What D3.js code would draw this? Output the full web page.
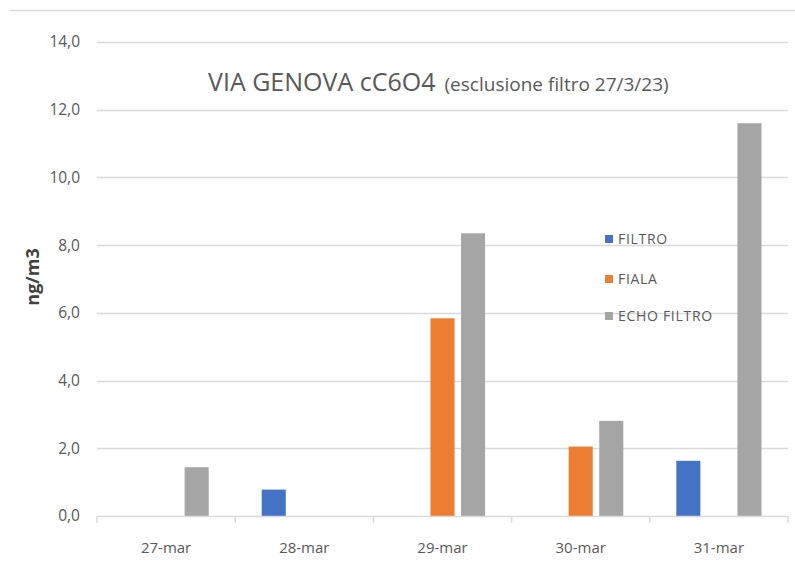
<!DOCTYPE html>
<html>
<head>
<meta charset="utf-8">
<script src="https://cdn.jsdelivr.net/npm/d3@7"></script>
<style>
  html, body { margin: 0; padding: 0; background: #fff; }
  svg text { font-family: "Open Sans", "Liberation Sans", sans-serif; }
</style>
</head>
<body>
<script>
const categories = ["27-mar", "28-mar", "29-mar", "30-mar", "31-mar"];
const seriesNames = ["FILTRO", "FIALA", "ECHO FILTRO"];
const filtro = [null, 0.78, null, null, 1.63];
const fiala = [null, null, 5.84, 2.05, null];
const echoFiltro = [1.44, null, 8.35, 2.81, 11.6];
const seriesColors = ["#4472C4", "#ED7D31", "#A5A5A5"];
const yTicks = [0, 2, 4, 6, 8, 10, 12, 14];

const W = 795, H = 568;
const margin = { left: 97, right: 7, top: 42, bottom: 52 };
const svg = d3.select("body").append("svg").attr("width", W).attr("height", H);

const plotW = W - margin.left - margin.right;
const plotH = H - margin.top - margin.bottom;
const g = svg.append("g").attr("transform", `translate(${margin.left},${margin.top})`);

const x0 = d3.scaleBand().domain(categories).range([0, plotW]).padding(0);
const outer = 26.5;
const x1 = d3.scaleBand().domain(seriesNames).range([outer, x0.bandwidth() - outer]).paddingInner(0.213);
const y = d3.scaleLinear().domain([0, 14]).range([plotH, 0]);

// top border line
svg.append("line").attr("x1", 10).attr("x2", W).attr("y1", 10.5).attr("y2", 10.5)
  .attr("stroke", "#D9D9D9").attr("stroke-width", 1.5);

// gridlines
g.selectAll(".grid").data(yTicks.filter(d => d > 0)).join("line")
  .attr("x1", 0).attr("x2", plotW)
  .attr("y1", d => Math.round(y(d)) + 0.5).attr("y2", d => Math.round(y(d)) + 0.5)
  .attr("stroke", "#D9D9D9").attr("stroke-width", 1.5);

// y labels
g.selectAll(".ylab").data(yTicks).join("text")
  .attr("x", -17).attr("y", d => y(d)).attr("dy", "0.35em")
  .attr("text-anchor", "end").attr("fill", "#595959").attr("font-size", 15.5)
  .text(d => d.toFixed(1).replace(".", ","));

// bars
const seriesData = [filtro, fiala, echoFiltro];
seriesNames.forEach((name, si) => {
  const vals = seriesData[si];
  g.selectAll(".bar" + si).data(categories.map((c, i) => ({ c, v: vals[i] })).filter(d => d.v != null))
    .join("rect")
    .attr("x", d => x0(d.c) + x1(name))
    .attr("width", x1.bandwidth())
    .attr("y", d => y(d.v))
    .attr("height", d => y(0) - y(d.v))
    .attr("fill", seriesColors[si]);
});

// x axis line
g.append("line").attr("x1", 0).attr("x2", plotW).attr("y1", plotH + 0.5).attr("y2", plotH + 0.5)
  .attr("stroke", "#D9D9D9").attr("stroke-width", 1.5);
// category ticks
const bounds = categories.map(c => x0(c)).concat([plotW]);
g.selectAll(".xtick").data(bounds).join("line")
  .attr("x1", d => d).attr("x2", d => d).attr("y1", plotH).attr("y2", plotH + 7)
  .attr("stroke", "#D9D9D9").attr("stroke-width", 1.5);
// x labels
g.selectAll(".xlab").data(categories).join("text")
  .attr("x", d => x0(d) + x0.bandwidth() / 2).attr("y", plotH + 37)
  .attr("text-anchor", "middle").attr("fill", "#595959").attr("font-size", 15)
  .text(d => d);

// y axis title
svg.append("text").attr("transform", "translate(39,277) rotate(-90)")
  .attr("text-anchor", "middle").attr("fill", "#404040").attr("font-size", 18).attr("font-weight", "bold")
  .text("ng/m3");

// title
const title = svg.append("text").attr("x", 208).attr("y", 91).attr("fill", "#595959");
title.append("tspan").attr("font-size", 25).text("VIA GENOVA cC6O4");
title.append("tspan").attr("font-size", 19).attr("dx", 9).text("(esclusione filtro 27/3/23)");

// legend
const legY = [239, 279, 316];
const leg = svg.selectAll(".leg").data(seriesNames).join("g")
  .attr("transform", (d, i) => `translate(605,${legY[i]})`);
leg.append("rect").attr("x", 0).attr("y", -4).attr("width", 8).attr("height", 8)
  .attr("fill", (d, i) => seriesColors[i]);
leg.append("text").attr("x", 13).attr("y", 0).attr("dy", "0.35em")
  .attr("fill", "#595959").attr("font-size", 14).attr("letter-spacing", 0.7).text(d => d);
</script>
</body>
</html>
